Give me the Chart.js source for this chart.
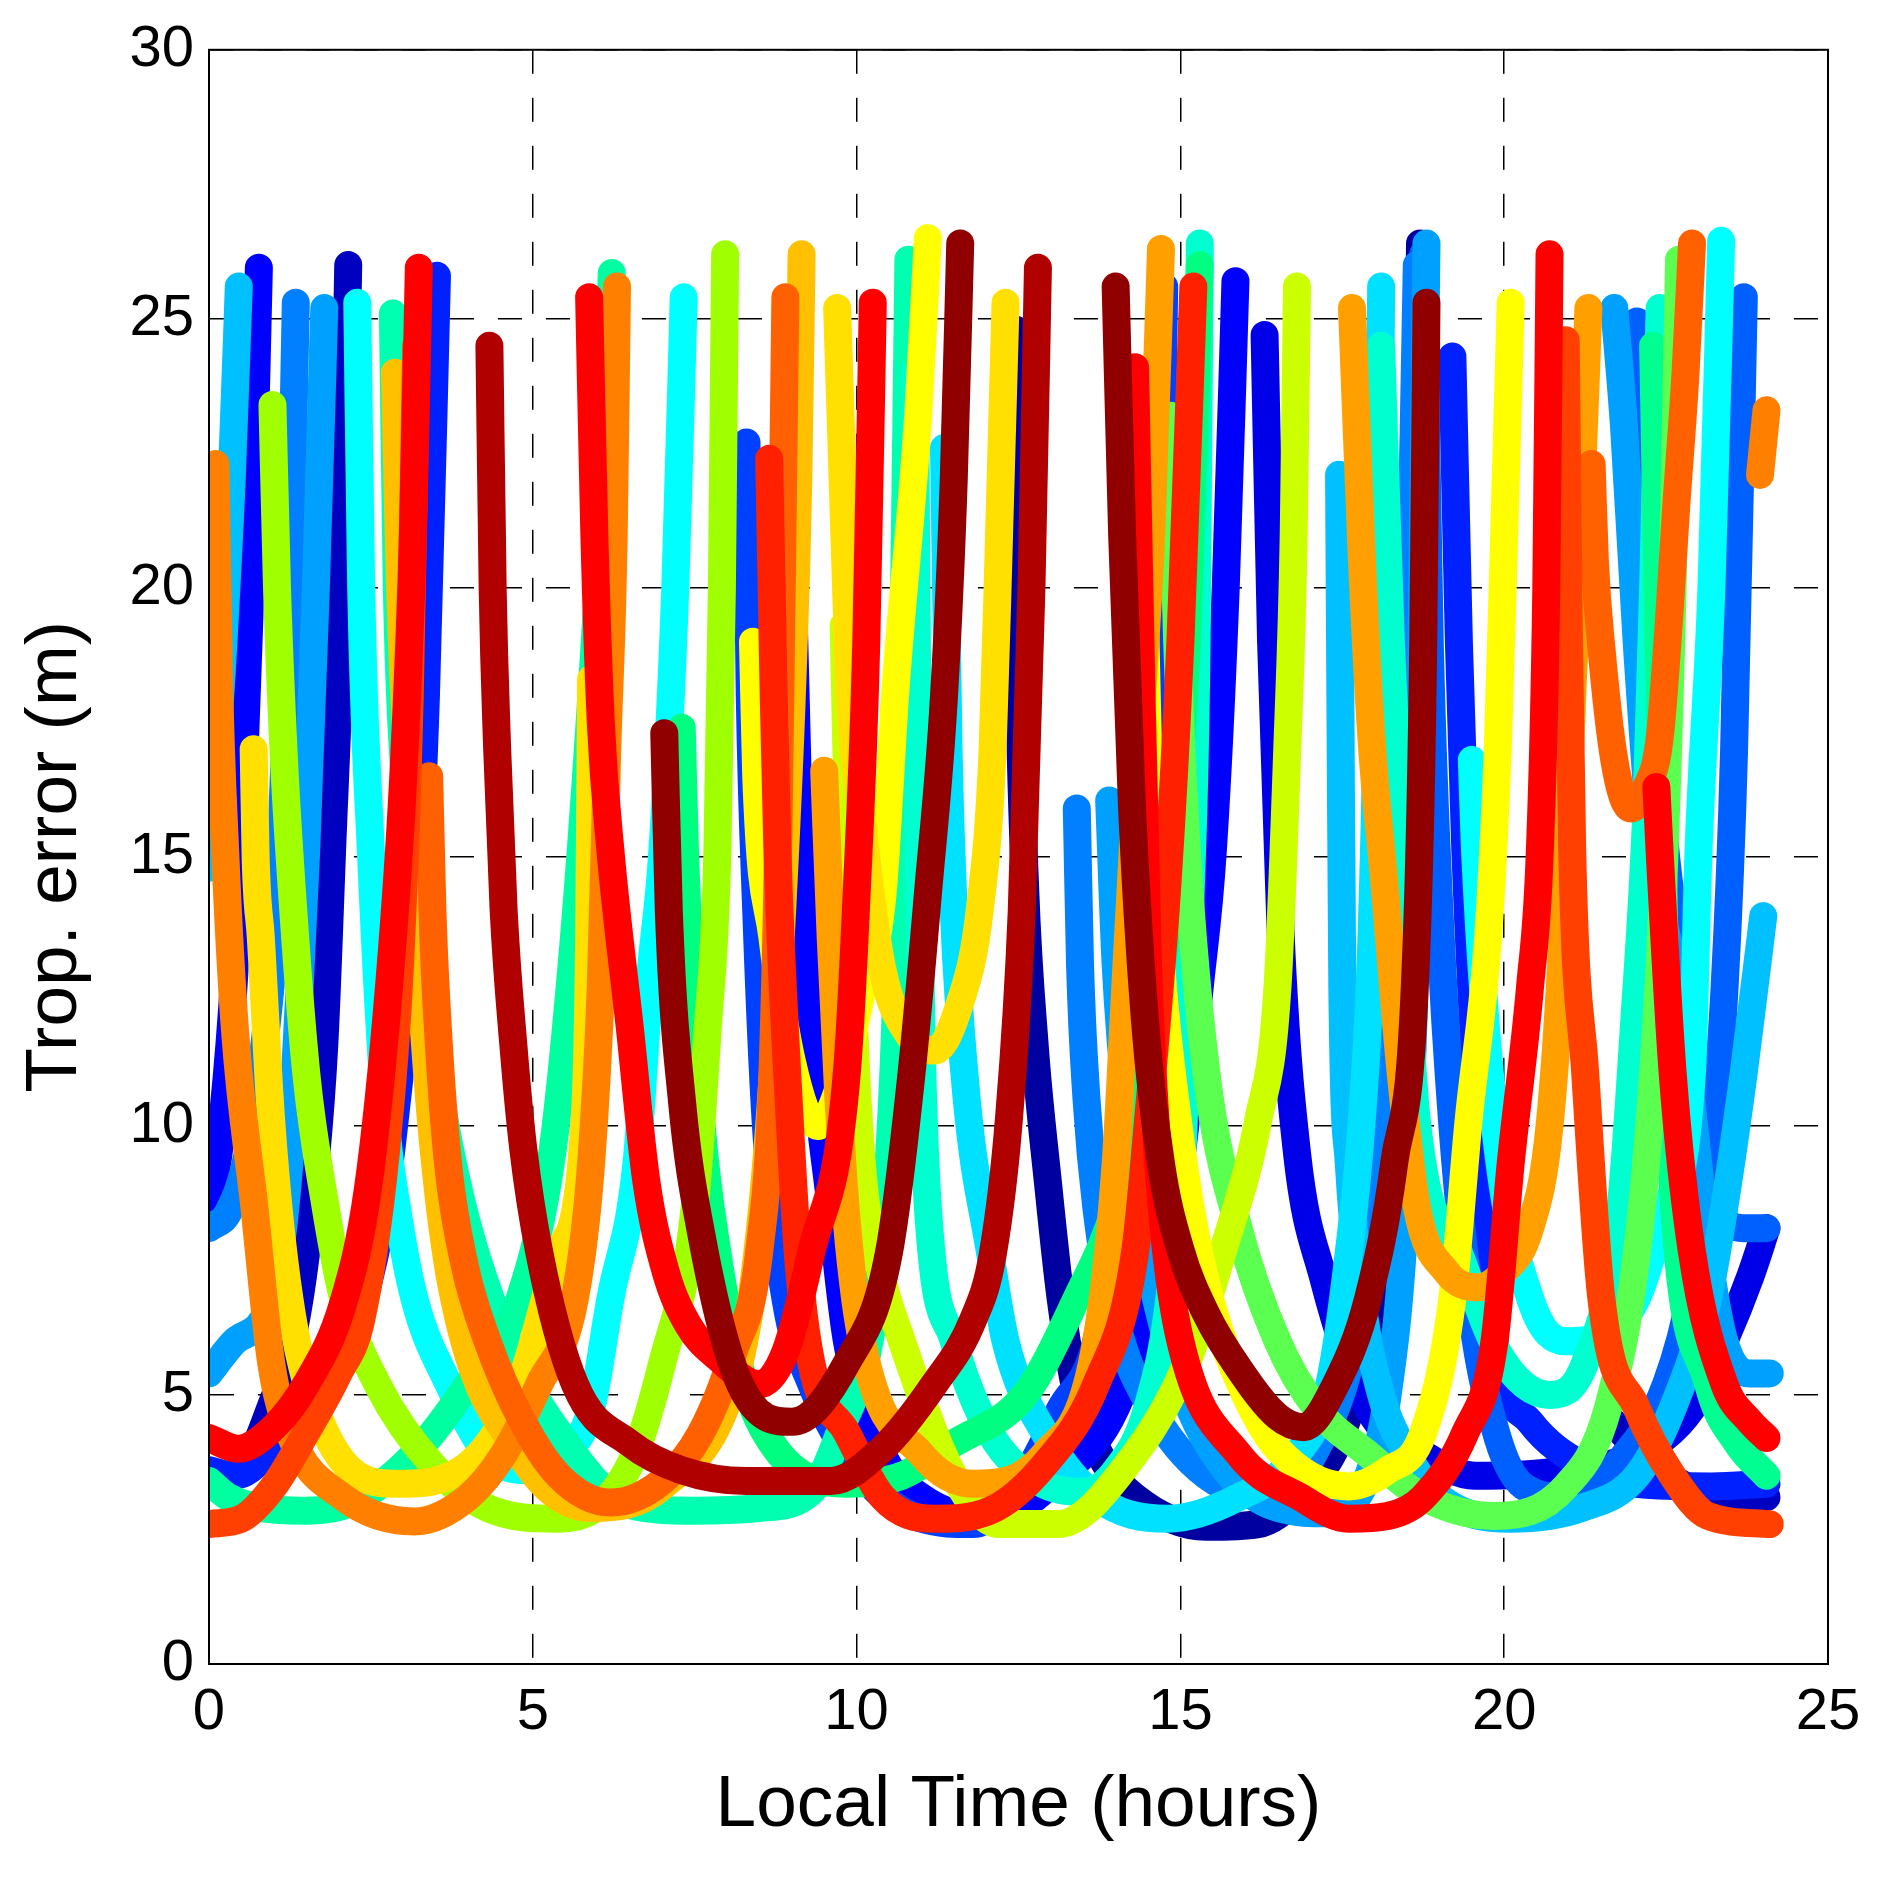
<!DOCTYPE html>
<html>
<head>
<meta charset="utf-8">
<script src="https://cdn.jsdelivr.net/npm/chart.js@4/dist/chart.umd.min.js"></script>
<style>
  html, body { margin: 0; padding: 0; background: #fff; }
  canvas { display: block; }
</style>
</head>
<body>
<canvas id="graph" width="1891" height="1880"></canvas>
<script>
// tick labels
const xTicks = [0, 5, 10, 15, 20, 25];
const yTicks = [0, 5, 10, 15, 20, 25, 30];

// one array per satellite pass: [local time (h), trop. error (m)]
const blueDark1 = [[0,3.3],[0.57,3.7],[0.96,4.8],[1.24,5.8],[1.45,7.2],[1.62,9],[1.78,11.5],[1.9,15.1],[2.05,20],[2.15,26.0]];
const blueDark1b = [[21.6,4.6],[22.3,3.7],[23.0,3.2],[23.5,3.05],[24.05,3.1]];
const blueDark2 = [[12.45,24.8],[12.5,19],[12.6,14.5],[12.75,11.5],[12.95,9],[13.15,6.8],[13.4,5.0],[13.8,3.8],[14.3,3.1],[15.4,2.55],[16.2,2.6],[16.9,3.2],[17.5,4.3],[17.95,6.3],[18.25,9],[18.45,12.5],[18.6,17],[18.7,26.4]];
const blue1 = [[0,8.4],[0.2,10],[0.4,13],[0.55,17],[0.67,21],[0.77,25.95]];
const blue2 = [[9.0,21],[9.1,16],[9.3,11.8],[9.6,8.5],[9.85,6.0],[10.4,3.9],[11.0,3.1],[12.06,2.7],[13.15,3.5],[14.0,4.75],[14.55,6.8],[15.0,9.3],[15.3,12.6],[15.5,15.1],[15.7,20],[15.85,25.7]];
const blue3 = [[16.3,24.7],[16.4,19],[16.55,13.5],[16.8,9.5],[17.2,7.2],[17.9,4.75],[18.75,3.9],[19.55,3.5],[20.95,3.6],[22.05,3.9],[22.9,4.75],[23.4,6.0],[23.8,7.2],[24.05,8.1]];
const blue4 = [[0,3.6],[0.4,3.5],[0.9,3.9],[1.5,4.8],[2.0,5.6],[2.35,6.6],[2.7,8.5],[2.95,11],[3.2,14],[3.35,18],[3.52,25.8]];
const blue5 = [[19.2,24.3],[19.3,19],[19.4,15.1],[19.6,10.1],[19.85,6.0],[20.4,4.5],[21.2,3.7],[22.05,3.35],[23.2,3.3],[24.05,3.35]];
const blue6 = [[8.3,22.7],[8.35,18],[8.45,14],[8.6,10],[8.9,6.8],[9.3,5.2],[10.1,3.5],[11.0,2.7],[11.8,2.6],[12.6,3.5],[13.15,4.75],[13.7,6.0],[14.15,9.3],[14.55,12.6],[14.65,18],[14.75,25.6]];
const blue7 = [[18.75,26.2],[18.85,19],[19.0,14],[19.2,10],[19.5,6.5],[19.9,4.2],[20.3,3.3],[21.0,3.1],[21.8,3.8],[22.5,5.2],[22.9,7],[23.2,9.5],[23.4,12.5],[23.55,17],[23.7,25.4]];
const blue8 = [[22.05,24.95],[22.2,20],[22.5,15],[22.9,11.8],[23.0,10.1],[23.3,8.5],[23.7,8.1],[24.05,8.1]];
const blue9 = [[0,8.1],[0.3,8.4],[0.6,9.5],[0.9,12],[1.1,15],[1.25,20],[1.34,25.3]];
const blue10 = [[13.4,15.9],[13.45,13],[13.55,10.5],[13.7,8.5],[14.0,6.4],[14.55,4.75],[15.4,3.5],[16.5,3.1],[17.1,4.0],[17.6,5.5],[18.0,8],[18.3,12],[18.5,17],[18.65,26.0]];
const lightBlue1 = [[0,5.4],[0.4,6.0],[0.96,6.8],[1.24,9.3],[1.4,12.6],[1.5,15.1],[1.65,20],[1.78,25.2]];
const lightBlue2 = [[13.9,16.05],[14.0,13],[14.2,10],[14.5,7.5],[15.0,5.2],[15.7,3.6],[16.5,2.9],[17.3,2.8],[17.9,3.5],[18.2,5],[18.45,8],[18.6,12],[18.7,17],[18.8,26.4]];
const lightBlue3 = [[21.7,25.2],[21.85,23],[22.05,18.9],[22.3,15],[22.7,12.4],[22.95,9.8],[23.15,7.65],[23.4,6.0],[23.8,5.4],[24.1,5.4]];
const lightBlue4 = [[0,14.8],[0.2,18.5],[0.35,22],[0.46,25.6]];
const lightBlue5 = [[17.45,22.1],[17.47,18],[17.5,12.6],[17.6,9.3],[17.8,6.8],[18.1,5.0],[18.5,3.9],[19.0,3.1],[20.1,2.7],[21.2,2.9],[22.05,3.5],[22.6,4.75],[23.15,6.8],[23.4,8.5],[23.7,11],[24.0,13.9]];
const cyan0 = [[11.35,22.6],[11.42,17],[11.5,14],[11.7,10.5],[12.06,7.65],[12.3,6.0],[12.9,4.3],[13.7,3.1],[14.8,2.7],[15.9,3.1],[16.8,3.9],[17.3,5.2],[17.6,7.65],[17.8,10.1],[17.95,13.5],[18.05,19],[18.1,25.6]];
const cyan1 = [[2.29,25.3],[2.35,20],[2.5,15.1],[2.73,10.1],[2.9,8.5],[3.17,6.8],[3.7,5.2],[4.3,3.9],[4.9,3.6],[5.4,3.85],[5.9,4.75],[6.2,6.8],[6.6,9.3],[6.8,12.6],[7.0,15.1],[7.2,20],[7.33,25.4]];
const cyan2 = [[19.5,16.8],[19.55,15.1],[19.85,10.1],[20.4,6.8],[20.95,6.0],[21.5,6.1],[22.05,6.8],[22.5,8.5],[22.9,11],[23.0,15.1],[23.2,20],[23.35,26.45]];
const aqua1 = [[2.84,25.1],[2.9,20],[3.05,16],[3.3,13],[3.7,9.7],[4.5,6.3],[5.4,4.3],[6.5,2.95],[7.5,2.85],[8.5,2.9],[9.3,3.2],[9.8,4.5],[10.2,6],[10.45,8.5],[10.6,12],[10.7,17],[10.8,26.1]];
const aqua2 = [[10.9,24],[10.95,16],[11.0,11.8],[11.1,8.5],[11.5,6.0],[12.06,4.3],[12.8,3.4],[13.5,3.2],[14.0,3.6],[14.5,4.8],[14.85,7],[15.05,10],[15.15,14],[15.25,19],[15.3,26.4]];
const aqua3 = [[18.1,24.5],[18.25,19],[18.4,15],[18.65,10.1],[19.3,7.65],[19.9,5.8],[20.7,5.0],[21.25,5.6],[21.8,8.5],[22.0,11.8],[22.2,16],[22.3,20],[22.4,25.2]];
const green1 = [[0,3.4],[0.3,3.1],[0.8,2.9],[1.5,2.85],[2.2,3.0],[3.17,3.9],[4.0,5.2],[4.8,6.8],[5.3,9.5],[5.6,13],[5.85,17],[6.05,21],[6.22,25.85]];
const green2 = [[7.3,17.4],[7.35,15.1],[7.6,10.1],[7.85,7.65],[8.2,5.5],[8.75,4.0],[9.85,3.35],[10.7,3.5],[11.5,4.1],[12.6,5.0],[13.4,6.8],[14.0,8.5],[14.5,11],[14.85,14.5],[15.1,19],[15.3,26.0]];
const green3 = [[22.3,24.5],[22.4,18],[22.5,12],[22.6,8.9],[23.15,5.2],[23.6,4.1],[24.05,3.5]];
const lightGreen = [[14.85,23.2],[14.95,19],[15.1,15.1],[15.4,11],[15.9,8.1],[16.5,6.0],[17.1,4.75],[17.9,3.9],[18.75,3.1],[19.85,2.75],[20.95,3.3],[21.6,4.75],[22.05,7.65],[22.3,11],[22.45,14.3],[22.6,20],[22.7,26.1]];
const yellowGreen1 = [[0.98,23.4],[1.05,20],[1.15,17],[1.24,15.1],[1.5,11],[1.8,8.5],[2.07,6.8],[2.6,5.2],[3.45,3.7],[4.3,2.9],[5.4,2.7],[6.5,3.7],[7.0,5.6],[7.5,8.5],[7.7,11.8],[7.85,15.1],[7.92,20],[7.97,26.2]];
const yellowGreen2 = [[9.8,19.3],[9.9,14],[10.05,9.8],[10.35,7.4],[10.7,6.0],[11.5,3.5],[12.2,2.6],[13.1,2.6],[14.3,3.9],[15.1,5.6],[15.65,7.65],[16.2,10.1],[16.5,12.6],[16.65,17],[16.75,21],[16.8,25.6]];
const yellow1 = [[8.4,19],[8.45,16.5],[8.7,13.5],[9.0,11.2],[9.4,10.0],[9.75,10.8],[10.1,12.6],[10.4,14.3],[10.6,18.1],[10.95,23.2],[11.1,26.5]];
const yellow2 = [[14.4,22.4],[14.5,17],[14.7,13],[14.95,10.2],[15.2,8.2],[15.5,6.6],[16.0,5.0],[16.5,4.0],[17.6,3.3],[18.2,3.6],[18.75,4.3],[19.2,6.8],[19.45,10.1],[19.75,13.5],[19.9,17],[20.0,21],[20.1,25.3]];
const gold1 = [[0.69,17],[0.72,15],[0.8,13.5],[0.96,10.1],[1.24,6.8],[1.8,4.3],[2.9,3.35],[4.0,3.7],[4.8,5.2],[5.4,7.65],[5.8,10.1],[5.87,13.5],[5.9,18.3]];
const gold2 = [[9.7,25.2],[9.8,21.4],[9.9,18],[10.1,15.5],[10.4,12.9],[10.8,11.7],[11.2,11.4],[11.6,12.3],[11.9,14],[12.1,17],[12.2,21],[12.3,25.3]];
const gold3 = [[2.87,24],[2.95,20],[3.1,16],[3.25,13],[3.45,9.8],[3.75,7.0],[4.8,3.9],[5.9,2.9],[7.0,3.3],[8.1,5.2],[8.4,7],[8.65,10],[8.85,14],[9.0,18],[9.1,22],[9.15,26.2]];
const orange1 = [[9.5,16.6],[9.6,13.5],[9.72,10.5],[9.85,8.2],[10.1,5.9],[11.0,3.9],[11.8,3.35],[12.9,3.9],[13.7,6.0],[14.0,9.3],[14.15,12.6],[14.35,17],[14.55,21],[14.7,26.3]];
const orange2 = [[17.65,25.2],[17.8,20.6],[17.95,17.2],[18.15,14.5],[18.4,11],[18.65,8.5],[19.1,7.3],[19.6,7.0],[20.0,7.3],[20.4,8.1],[20.7,10],[20.9,13.5],[21.05,18],[21.2,22],[21.3,25.2]];
const orange3 = [[0.1,22.3],[0.15,18.5],[0.25,15.1],[0.4,11.8],[0.7,8.5],[0.96,5.6],[1.24,4.3],[2.07,3.1],[3.17,2.65],[4.0,3.1],[4.55,3.9],[5.1,5.2],[5.65,6.8],[5.9,9.3],[6.05,12.6],[6.15,17],[6.25,21],[6.3,25.6]];
const orange4 = [[23.95,22.1],[24.05,23.3]];
const orange5 = [[3.4,16.5],[3.45,14],[3.55,11.5],[3.7,9.2],[3.95,7.4],[4.3,6.0],[4.8,4.6],[5.4,3.5],[6.2,3.0],[7.0,3.4],[7.6,4.3],[8.1,5.8],[8.5,7.7],[8.7,11],[8.8,16],[8.9,25.4]];
const orange6 = [[21.35,22.3],[21.4,20.5],[21.5,18.9],[21.7,16.8],[21.95,15.9],[22.2,16.3],[22.4,17.2],[22.55,19.5],[22.65,21.4],[22.8,24],[22.9,26.4]];
const orangeRed1 = [[0,2.6],[0.5,2.7],[1.0,3.3],[1.5,4.3],[2.0,5.4],[2.35,6.4],[2.73,9.5],[2.95,13],[3.1,18],[3.2,24.5]];
const orangeRed2 = [[20.95,24.6],[21.0,19],[21.05,15.1],[21.25,11],[21.5,6.8],[22.05,4.75],[22.6,3.5],[23.15,2.75],[24.1,2.6]];
const red1 = [[8.65,22.4],[8.72,18],[8.78,15],[8.95,10.5],[9.1,7.5],[9.3,5.6],[9.85,4.3],[10.4,3.1],[11.2,2.7],[12.06,2.85],[12.9,3.7],[13.7,5.2],[14.3,7.65],[14.5,10.1],[14.8,14.5],[15.0,19],[15.2,25.6]];
const red2 = [[0,4.2],[0.45,4.0],[1.0,4.4],[1.5,5.2],[2.07,6.7],[2.45,8.8],[2.78,12.6],[3.0,16.5],[3.15,21],[3.24,25.95]];
const red3 = [[5.87,25.4],[5.95,21],[6.05,17.5],[6.2,15.1],[6.5,11.8],[6.75,9],[7.05,7.3],[7.4,6.3],[7.85,5.7],[8.5,5.2],[8.9,5.8],[9.3,7.65],[9.85,11],[10.0,14.3],[10.15,19],[10.25,25.3]];
const red4 = [[14.3,24.1],[14.4,18],[14.5,13],[14.6,10.4],[14.75,8],[15.0,6.0],[15.9,3.9],[16.85,3.1],[17.6,2.7],[18.2,2.75],[18.75,3.1],[19.4,4.3],[19.85,6.0],[20.1,9.3],[20.4,12.6],[20.55,15.1],[20.65,20],[20.7,26.2]];
const red5 = [[22.35,16.3],[22.4,15.1],[22.6,11],[22.9,7.65],[23.4,5.2],[23.8,4.5],[24.05,4.2]];
const darkRed1 = [[4.33,24.5],[4.38,20],[4.45,17],[4.55,14],[4.7,11.5],[4.85,9.6],[5.1,7.65],[5.65,5.2],[6.5,4.1],[7.3,3.6],[8.3,3.4],[9.6,3.4],[10.4,4.0],[11.2,5.2],[11.8,6.4],[12.1,7.6],[12.35,10.1],[12.55,14],[12.7,20],[12.8,25.95]];
const darkRed2 = [[7.03,17.3],[7.1,14],[7.3,10.5],[7.6,8],[8.2,5.2],[9.0,4.5],[9.85,5.6],[10.5,7.65],[10.85,11],[11.1,14.3],[11.35,18],[11.5,22],[11.6,26.4]];
const darkRed3 = [[14.0,25.6],[14.1,21],[14.25,16],[14.45,12],[14.7,9.3],[15.0,7.7],[15.4,6.5],[15.9,5.5],[16.5,4.6],[16.9,4.4],[17.4,5.2],[17.9,6.8],[18.3,9.3],[18.65,13.5],[18.75,19],[18.8,25.3]];

// drawing order: first in the list is drawn first (bottom)
const passes = [blueDark1, blueDark1b, blueDark2, blue1, blue2, blue3, blue4, blue5, blue6, blue7, blue8, blue9, blue10,
  lightBlue1, lightBlue2, lightBlue3, lightBlue4, lightBlue5, cyan0, cyan1, cyan2, aqua1, aqua2, aqua3,
  green1, green2, green3, lightGreen, yellowGreen1, yellowGreen2, yellow1, yellow2, gold1, gold2, gold3,
  orange1, orange2, orange3, orange4, orange5, orange6, orangeRed1, orangeRed2,
  red1, red2, red3, red4, red5, darkRed1, darkRed2, darkRed3];
const passColors = ['#0000c0', '#0000c0', '#0000a0', '#0000ff', '#0000ff', '#0000e8', '#0020ff', '#0020ff', '#0040ff', '#0060ff', '#0060ff', '#0080ff', '#0080ff',
  '#00a0ff', '#00a0ff', '#00a0ff', '#00c0ff', '#00c0ff', '#00e0ff', '#00ffff', '#00ffff', '#00ffb0', '#00ffd0', '#00ffd0',
  '#00ffa0', '#00ff80', '#00ff90', '#5aff50', '#a0ff00', '#ccff00', '#ffff00', '#ffff00', '#ffe000', '#ffe000', '#ffc000',
  '#ffa000', '#ffa000', '#ff8000', '#ff8000', '#ff6000', '#ff6000', '#ff4000', '#ff4000',
  '#ff2000', '#ff0000', '#ff0000', '#ff0000', '#ff0000', '#b00000', '#900000', '#900000'];

const datasets = passes.map(function (pass, i) {
  return {
    data: pass.map(function (p) { return { x: p[0], y: p[1] }; }),
    borderColor: passColors[i],
    borderWidth: 28,
    borderCapStyle: 'round',
    borderJoinStyle: 'round',
    pointRadius: 0,
    fill: false,
    cubicInterpolationMode: 'monotone',
    order: passes.length - i
  };
});

const boxPlugin = {
  id: 'box',
  afterDatasetsDraw(chart) {
    const a = chart.chartArea;
    const ctx = chart.ctx;
    ctx.save();
    ctx.strokeStyle = '#000';
    ctx.lineWidth = 2;
    ctx.setLineDash([]);
    ctx.strokeRect(a.left, a.top, a.right - a.left, a.bottom - a.top);
    ctx.restore();
  }
};

const tickFont = { family: '"Liberation Sans", Arial, sans-serif', size: 58 };
const titleFont = { family: '"Liberation Sans", Arial, sans-serif', size: 73 };

var ctx = document.getElementById("graph").getContext("2d");

var graph = new Chart(ctx, {
  type: "line",
  data: { datasets: datasets },
  plugins: [boxPlugin],
  options: {
    responsive: false,
    animation: false,
    devicePixelRatio: 1,
    layout: { padding: { left: 0, right: 63, top: 49, bottom: 0 } },
    plugins: { legend: { display: false }, tooltip: { enabled: false } },
    scales: {
      x: {
        type: "linear",
        min: 0,
        max: 25,
        afterBuildTicks: function (s) { s.ticks = xTicks.map(function (v) { return { value: v }; }); },
        afterFit: function (s) { s.height = 216; },
        ticks: { color: "#000", font: tickFont, padding: 14, maxRotation: 0 },
        grid: { color: "#000", lineWidth: 1.5, drawTicks: false },
        border: { display: true, color: "#000", width: 2, dash: [24, 24] },
        title: { display: true, text: "Local Time (hours)", color: "#000", font: titleFont, padding: { top: 0, bottom: 30 } }
      },
      y: {
        type: "linear",
        min: 0,
        max: 30,
        afterBuildTicks: function (s) { s.ticks = yTicks.map(function (v) { return { value: v }; }); },
        afterFit: function (s) { s.width = 209; },
        ticks: { color: "#000", font: tickFont, padding: 15 },
        grid: { color: "#000", lineWidth: 1.5, drawTicks: false },
        border: { display: true, color: "#000", width: 2, dash: [24, 24] },
        title: { display: true, text: "Trop. error (m)", color: "#000", font: titleFont, padding: { top: 12, bottom: 0 } }
      }
    }
  }
});
</script>
</body>
</html>
